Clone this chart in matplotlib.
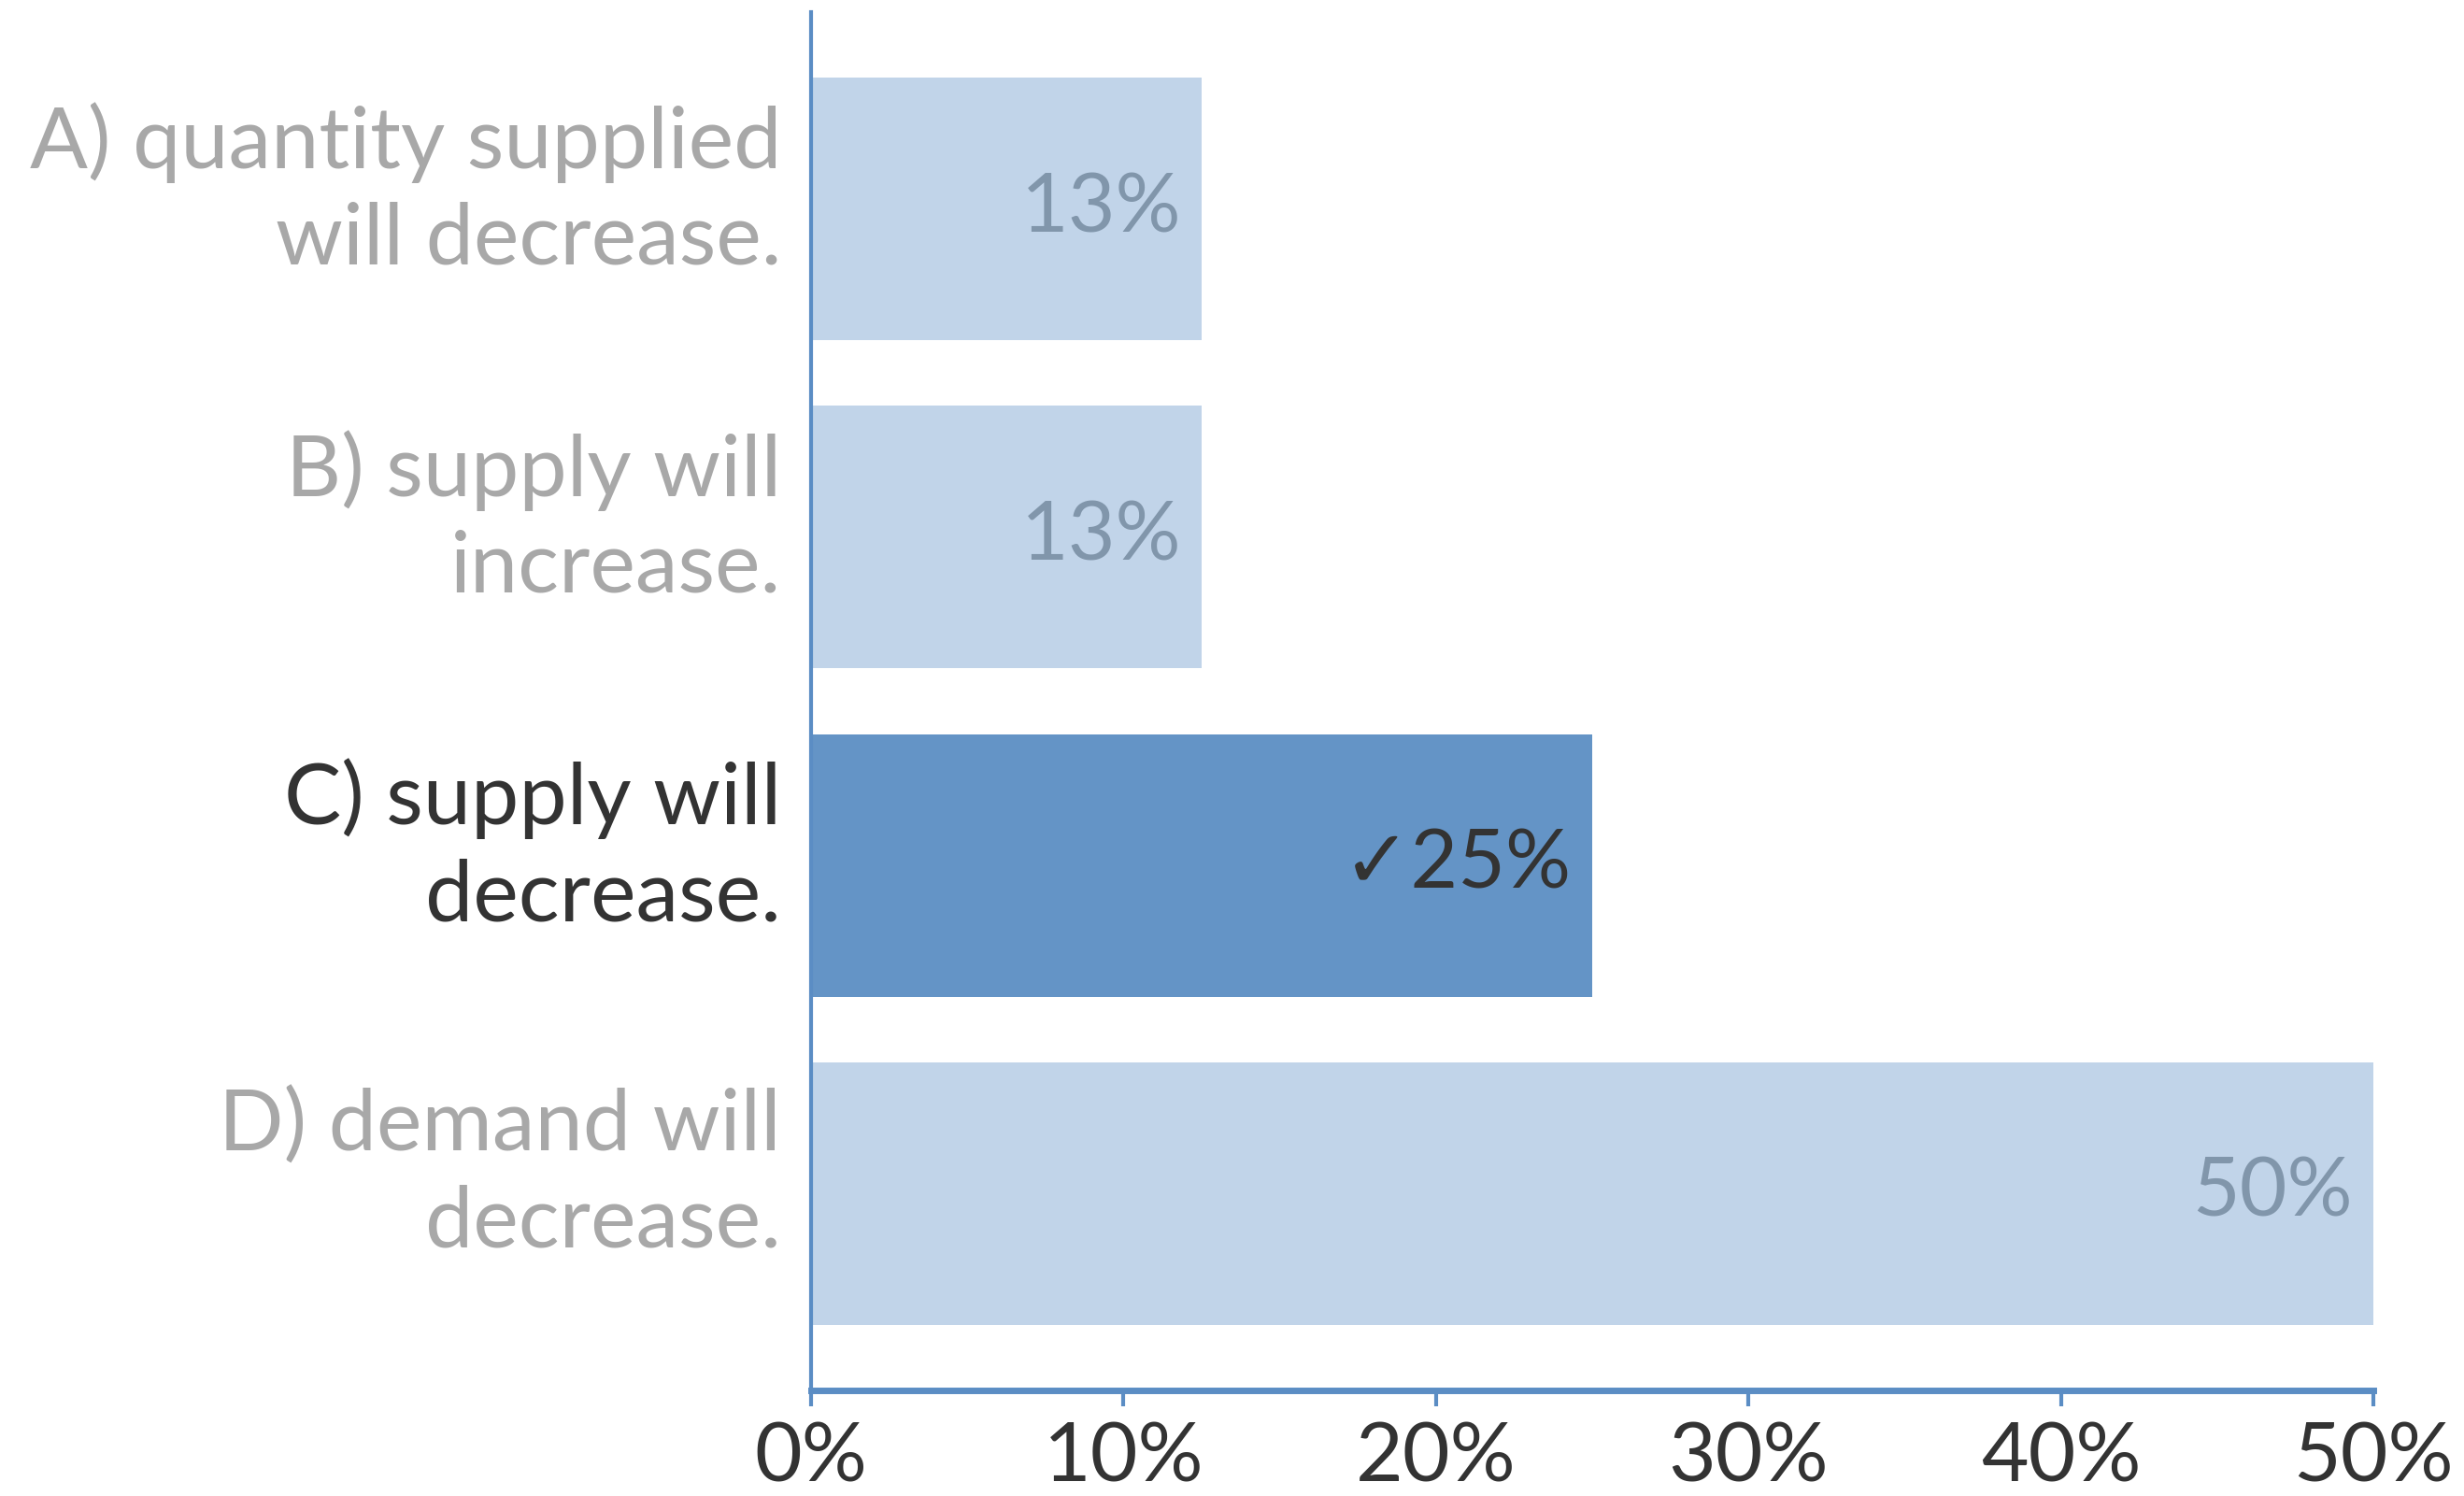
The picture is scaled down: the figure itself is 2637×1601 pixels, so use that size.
import matplotlib
matplotlib.use("Agg")
import matplotlib.pyplot as plt

# answer options and share of responses (%)
options = ["A) quantity supplied\nwill decrease.",
           "B) supply will\nincrease.",
           "C) supply will\ndecrease.",
           "D) demand will\ndecrease."]
shares = [12.5, 12.5, 25.0, 50.0]
correct = 2
xticks = [0, 10, 20, 30, 40, 50]

LIGHT_BAR = "#c1d4e9"
DARK_BAR = "#6494c6"
AXIS_BLUE = "#5b8dc4"
GREY_TEXT = "#a8a8a8"
DARK_TEXT = "#333333"
FAINT_VALUE = "#8196ab"

plt.rcParams['font.family'] = ['Lato', 'DejaVu Sans']

fig = plt.figure(figsize=(26.37, 16.01), dpi=100)
ax = fig.add_axes([0.3292, 0.0706, 0.634, 0.9213])

ypos = list(range(len(options)))
colors = [DARK_BAR if i == correct else LIGHT_BAR for i in ypos]
ax.barh(ypos, shares, height=0.8, color=colors, linewidth=0)

for i, v in enumerate(shares):
    txt = "%d%%" % int(v + 0.5)
    if i == correct:
        txt = "\u2713" + txt
    ax.annotate(txt, xy=(v, i), xytext=(-22, 0), textcoords="offset pixels",
                ha="right", va="center", fontsize=63,
                color=DARK_TEXT if i == correct else FAINT_VALUE)

ax.set_xlim(0, 50)
ax.set_ylim(3.6, -0.6)

# option labels sit left of the axis, a bit above the bar centre
ax.set_yticks([])
for i, opt in enumerate(options):
    ax.annotate(opt, xy=(0, i), xytext=(-32, 20), textcoords="offset pixels",
                ha="right", va="center", fontsize=66, linespacing=1.3,
                color=DARK_TEXT if i == correct else GREY_TEXT,
                annotation_clip=False)

ax.set_xticks(xticks)
ax.set_xticklabels(["%d%%" % t for t in xticks], fontsize=63, color=DARK_TEXT)
ax.tick_params(axis="x", length=12, width=3, color=AXIS_BLUE, pad=12)

for side in ["top", "right"]:
    ax.spines[side].set_visible(False)
ax.spines["left"].set_color(AXIS_BLUE)
ax.spines["left"].set_linewidth(3)
ax.spines["bottom"].set_color(AXIS_BLUE)
ax.spines["bottom"].set_linewidth(5)

fig.savefig("out.png", dpi=100)
